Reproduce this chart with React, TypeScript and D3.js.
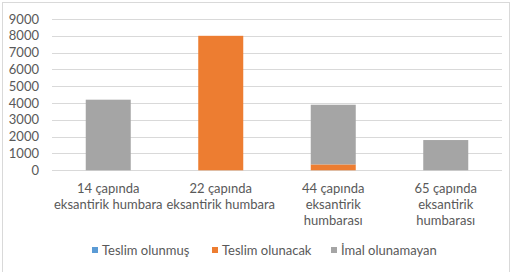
import React from "react";
import * as d3 from "d3";

const categories = [
  "14 çapında\neksantirik humbara",
  "22 çapında\neksantirik humbara",
  "44 çapında\neksantirik\nhumbarası",
  "65 çapında\neksantirik\nhumbarası",
];
const seriesNames = ["Teslim olunmuş", "Teslim olunacak", "İmal olunamayan"];
const teslimOlunmus = [0, 0, 0, 0];
const teslimOlunacak = [0, 8000, 350, 0];
const imalOlunamayan = [4200, 0, 3550, 1800];
const yTicks = [0, 1000, 2000, 3000, 4000, 5000, 6000, 7000, 8000, 9000];
const colors = ["#5B9BD5", "#ED7D31", "#A5A5A5"];

export default function App() {
  const W = 519, H = 272;
  const left = 52, right = 502, top = 19, bottom = 170.3;
  const x = d3.scaleBand().domain(categories).range([left, right]).paddingInner(0.6).paddingOuter(0.3);
  const y = d3.scaleLinear().domain([0, 9000]).range([bottom, top]);
  const rows = categories.map((c, i) => ({
    cat: c,
    s0: teslimOlunmus[i],
    s1: teslimOlunacak[i],
    s2: imalOlunamayan[i],
  }));
  const stack = d3.stack<any>().keys(["s0", "s1", "s2"]);
  const layers = stack(rows);
  const font = "Lato, 'Open Sans', sans-serif";
  const textColor = "#595959";
  const legendX = [92, 212, 331];

  return (
    <svg width={W} height={H} style={{ position: "absolute", left: 0, top: 0 }} fontFamily={font}>
      <rect x={0} y={0} width={W} height={H} fill="#fff" />
      <rect x={2.5} y={2.5} width={507} height={272} fill="none" stroke="#D9D9D9" strokeWidth={1} />
      {yTicks.map((t) => (
        <g key={t}>
          <line x1={left} x2={right} y1={Math.round(y(t)) + 0.5} y2={Math.round(y(t)) + 0.5} stroke="#D9D9D9" strokeWidth={1} />
          <text x={39} y={y(t)} dy="0.35em" textAnchor="end" fontSize={13} fill={textColor}>{t}</text>
        </g>
      ))}
      {layers.map((layer, li) =>
        layer.map((d, i) => {
          const h = y(d[0]) - y(d[1]);
          if (h <= 0) return null;
          return (
            <rect key={li + "-" + i} x={x(categories[i])!} y={y(d[1])} width={x.bandwidth()} height={h} fill={colors[li]} />
          );
        })
      )}
      {categories.map((c) => (
        <text key={c} x={x(c)! + x.bandwidth() / 2} y={188} textAnchor="middle" fontSize={13} fill={textColor}>
          {c.split("\n").map((ln, k) => (
            <tspan key={k} x={x(c)! + x.bandwidth() / 2} dy={k === 0 ? "0.35em" : 16.4}>{ln}</tspan>
          ))}
        </text>
      ))}
      {seriesNames.map((s, i) => (
        <g key={s}>
          <rect x={legendX[i]} y={247} width={6} height={6} fill={colors[i]} />
          <text x={legendX[i] + 10} y={250.5} dy="0.35em" fontSize={13} fill={textColor}>{s}</text>
        </g>
      ))}
    </svg>
  );
}
